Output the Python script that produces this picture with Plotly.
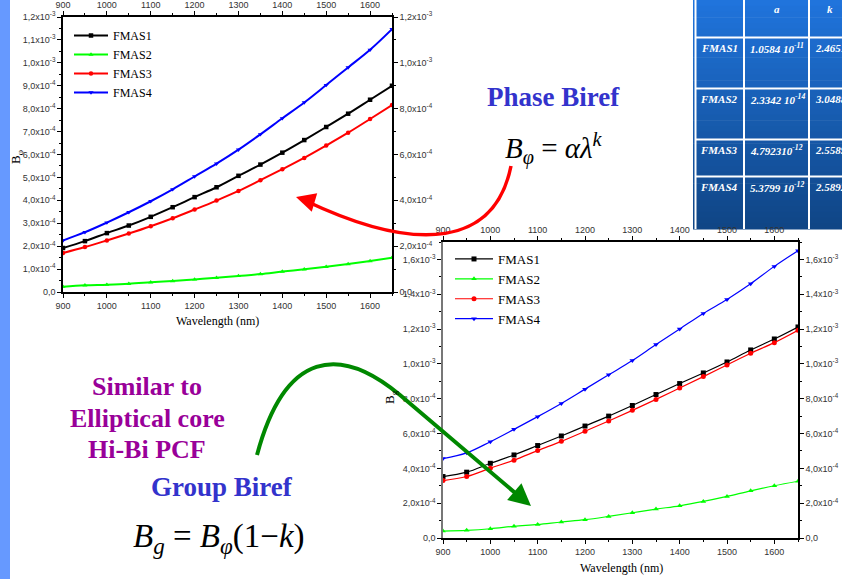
import plotly.graph_objects as go

W, H = 842, 579

# ---------------- data ----------------
wavelength = [900, 950, 1000, 1050, 1100, 1150, 1200, 1250, 1300, 1350, 1400, 1450, 1500, 1550, 1600, 1650]

# Phase birefringence (top-left chart)
phase_fmas1 = [1.92e-4, 2.22e-4, 2.57e-4, 2.90e-4, 3.28e-4, 3.70e-4, 4.14e-4, 4.57e-4, 5.07e-4, 5.56e-4, 6.08e-4, 6.63e-4, 7.20e-4, 7.78e-4, 8.39e-4, 9.00e-4]
phase_fmas2 = [0.23e-4, 0.29e-4, 0.32e-4, 0.36e-4, 0.42e-4, 0.48e-4, 0.55e-4, 0.62e-4, 0.70e-4, 0.78e-4, 0.89e-4, 0.99e-4, 1.10e-4, 1.22e-4, 1.35e-4, 1.49e-4]
phase_fmas3 = [1.70e-4, 1.96e-4, 2.25e-4, 2.55e-4, 2.87e-4, 3.22e-4, 3.60e-4, 3.99e-4, 4.41e-4, 4.88e-4, 5.36e-4, 5.85e-4, 6.39e-4, 6.95e-4, 7.55e-4, 8.16e-4]
phase_fmas4 = [2.25e-4, 2.61e-4, 3.03e-4, 3.48e-4, 3.96e-4, 4.48e-4, 5.04e-4, 5.60e-4, 6.21e-4, 6.88e-4, 7.58e-4, 8.27e-4, 9.03e-4, 9.80e-4, 10.57e-4, 11.47e-4]

# Group birefringence (bottom-right chart)
group_fmas1 = [3.53e-4, 3.78e-4, 4.29e-4, 4.77e-4, 5.31e-4, 5.86e-4, 6.43e-4, 7.00e-4, 7.61e-4, 8.24e-4, 8.87e-4, 9.48e-4, 10.11e-4, 10.80e-4, 11.43e-4, 12.12e-4]
group_fmas2 = [0.40e-4, 0.44e-4, 0.53e-4, 0.67e-4, 0.78e-4, 0.92e-4, 1.05e-4, 1.24e-4, 1.45e-4, 1.66e-4, 1.85e-4, 2.10e-4, 2.39e-4, 2.71e-4, 3.00e-4, 3.26e-4]
group_fmas3 = [3.30e-4, 3.53e-4, 4.01e-4, 4.47e-4, 5.02e-4, 5.55e-4, 6.13e-4, 6.72e-4, 7.33e-4, 7.96e-4, 8.61e-4, 9.27e-4, 9.94e-4, 10.61e-4, 11.22e-4, 11.93e-4]
group_fmas4 = [4.56e-4, 4.89e-4, 5.53e-4, 6.24e-4, 6.97e-4, 7.73e-4, 8.55e-4, 9.37e-4, 10.19e-4, 11.11e-4, 12.00e-4, 12.90e-4, 13.70e-4, 14.60e-4, 15.60e-4, 16.50e-4]

series_names = ["FMAS1", "FMAS2", "FMAS3", "FMAS4"]

x_tickvals = [900, 1000, 1100, 1200, 1300, 1400, 1500, 1600]

phase_left_tickvals = [i * 1e-4 for i in range(13)]
phase_left_ticktext = ["0,0", "1,0x10<sup>-4</sup>", "2,0x10<sup>-4</sup>", "3,0x10<sup>-4</sup>", "4,0x10<sup>-4</sup>",
                       "5,0x10<sup>-4</sup>", "6,0x10<sup>-4</sup>", "7,0x10<sup>-4</sup>", "8,0x10<sup>-4</sup>",
                       "9,0x10<sup>-4</sup>", "1,0x10<sup>-3</sup>", "1,1x10<sup>-3</sup>", "1,2x10<sup>-3</sup>"]
phase_right_tickvals = [i * 2e-4 for i in range(7)]
phase_right_ticktext = ["0,0", "2,0x10<sup>-4</sup>", "4,0x10<sup>-4</sup>", "6,0x10<sup>-4</sup>",
                        "8,0x10<sup>-4</sup>", "1,0x10<sup>-3</sup>", "1,2x10<sup>-3</sup>"]
group_tickvals = [i * 2e-4 for i in range(9)]
group_ticktext = ["0,0", "2,0x10<sup>-4</sup>", "4,0x10<sup>-4</sup>", "6,0x10<sup>-4</sup>", "8,0x10<sup>-4</sup>",
                  "1,0x10<sup>-3</sup>", "1,2x10<sup>-3</sup>", "1,4x10<sup>-3</sup>", "1,6x10<sup>-3</sup>"]

table_alpha = ["1.0584 10<sup>-11</sup>", "2.3342 10<sup>-14</sup>", "4.792310<sup>-12</sup>", "5.3799 10<sup>-12</sup>"]
table_k = ["2.4651", "3.0488", "2.5589", "2.5892"]

# ---------------- helpers ----------------
def X(px):
    return px / W

def Y(py):
    return 1 - py / H

colors = ["#000000", "#00FF00", "#FF0000", "#0000FF"]
symbols = ["square", "triangle-up", "circle", "triangle-down"]

fig = go.Figure()

phase = [phase_fmas1, phase_fmas2, phase_fmas3, phase_fmas4]
group = [group_fmas1, group_fmas2, group_fmas3, group_fmas4]

for name, vals, c, s in zip(series_names, phase, colors, symbols):
    fig.add_trace(go.Scatter(x=wavelength, y=vals, name=name, mode="lines+markers",
                             line=dict(color=c, width=2, shape="spline"),
                             marker=dict(color=c, symbol=s, size=4.5),
                             xaxis="x", yaxis="y", legend="legend", hoverinfo="skip"))
for name, vals, c, s in zip(series_names, group, colors, symbols):
    fig.add_trace(go.Scatter(x=wavelength, y=vals, name=name, mode="lines+markers",
                             line=dict(color=c, width=1.2, shape="spline"),
                             marker=dict(color=c, symbol=s, size=5),
                             xaxis="x3", yaxis="y3", legend="legend2", hoverinfo="skip"))
# invisible traces so overlay axes are drawn
fig.add_trace(go.Scatter(x=wavelength, y=phase_fmas1, mode="lines", line=dict(width=0), opacity=0,
                         showlegend=False, hoverinfo="skip", xaxis="x2", yaxis="y2"))
fig.add_trace(go.Scatter(x=wavelength, y=group_fmas1, mode="lines", line=dict(width=0), opacity=0,
                         showlegend=False, hoverinfo="skip", xaxis="x4", yaxis="y4"))

tickfont = dict(family="Liberation Sans, Arial", size=9, color="#333333")

def xax(domain, anchor, side, overlaying=None, linecolor="black"):
    d = dict(domain=domain, anchor=anchor, side=side, range=[900, 1650], tickvals=x_tickvals,
             ticks="outside", ticklen=4, tickcolor="black", showline=True, linecolor=linecolor, linewidth=1.5,
             showgrid=False, zeroline=False, tickfont=tickfont, automargin=False,
             minor=dict(dtick=50, ticks="outside", ticklen=2, tickcolor="black"))
    if overlaying:
        d["overlaying"] = overlaying
    return d

def yax(domain, anchor, side, rng, tv, tt, minor_dt, overlaying=None, linecolor="black"):
    d = dict(domain=domain, anchor=anchor, side=side, range=rng, tickmode="array", tickvals=tv, ticktext=tt,
             ticks="outside", ticklen=4, tickcolor="black", showline=True, linecolor=linecolor, linewidth=1.5,
             showgrid=False, zeroline=False, tickfont=tickfont, automargin=False,
             minor=dict(dtick=minor_dt, ticks="outside", ticklen=2, tickcolor="black"))
    if overlaying:
        d["overlaying"] = overlaying
    return d

d1x = [X(63), X(392)]
d1y = [Y(292), Y(17)]
d2x = [X(443), X(798)]
d2y = [Y(538), Y(242)]

fig.update_layout(
    xaxis=xax(d1x, "y", "bottom"),
    xaxis2=xax(d1x, "y", "top", overlaying="x"),
    yaxis=yax(d1y, "x", "left", [0, 1.2e-3], phase_left_tickvals, phase_left_ticktext, 5e-5),
    yaxis2=yax(d1y, "x", "right", [0, 1.2e-3], phase_right_tickvals, phase_right_ticktext, 1e-4, overlaying="y"),
    xaxis3=xax(d2x, "y3", "bottom"),
    xaxis4=xax(d2x, "y3", "top", overlaying="x3"),
    yaxis3=yax(d2y, "x3", "left", [0, 1.7e-3], group_tickvals, group_ticktext, 1e-4, linecolor="#777777"),
    yaxis4=yax(d2y, "x3", "right", [0, 1.7e-3], group_tickvals, group_ticktext, 1e-4, overlaying="y3"),
)

serif = "Liberation Serif, Times New Roman"
fig.update_layout(
    legend=dict(x=X(69), y=Y(21), xanchor="left", yanchor="top", bgcolor="rgba(0,0,0,0)",
                font=dict(family=serif, size=12, color="black"), tracegroupgap=0, itemwidth=34),
    legend2=dict(x=X(450), y=Y(244), xanchor="left", yanchor="top", bgcolor="rgba(0,0,0,0)",
                 font=dict(family=serif, size=13, color="black"), tracegroupgap=0, itemwidth=38),
)

shapes = []
# left blue strip
shapes.append(dict(type="rect", xref="paper", yref="paper", x0=0, x1=X(10), y0=0, y1=1,
                   fillcolor="#6699FF", line=dict(width=0), layer="below"))

# table background gradient (bands)
tx0, tx1, ty0, ty1 = 693, 842, 0, 229
nb = 40
c_top = (0x20, 0x74, 0xDC)
c_bot = (0x10, 0x46, 0x86)
for i in range(nb):
    t = i / (nb - 1)
    col = tuple(int(c_top[j] + (c_bot[j] - c_top[j]) * t) for j in range(3))
    ya = ty0 + (ty1 - ty0) * i / nb
    yb = ty0 + (ty1 - ty0) * (i + 1) / nb + 0.6
    shapes.append(dict(type="rect", xref="paper", yref="paper", x0=X(tx0), x1=X(tx1), y0=Y(yb), y1=Y(ya),
                       fillcolor="rgb(%d,%d,%d)" % col, line=dict(width=0), layer="below"))
for vx in [695.5, 744, 809]:
    shapes.append(dict(type="line", xref="paper", yref="paper", x0=X(vx), x1=X(vx), y0=Y(ty1), y1=Y(0),
                       line=dict(color="white", width=2), layer="below"))
for hy in [37.5, 88.5, 139.5, 176.5]:
    shapes.append(dict(type="line", xref="paper", yref="paper", x0=X(695), x1=X(842), y0=Y(hy), y1=Y(hy),
                       line=dict(color="white", width=2), layer="below"))

def path(cmds):
    out = []
    for c in cmds:
        if isinstance(c, str):
            out.append(c)
        else:
            out.append("%.5f,%.5f" % (X(c[0]), Y(c[1])))
    return " ".join(out)

# red curved arrow
shapes.append(dict(type="path", xref="paper", yref="paper",
                   path=path(["M", (511, 166), "C", (495, 245), (420, 255), (306, 201)]),
                   line=dict(color="#FF0000", width=3.5)))
# green curved arrow
shapes.append(dict(type="path", xref="paper", yref="paper",
                   path=path(["M", (257, 455), "C", (285, 350), (340, 345), (400, 395), "L", (520, 497)]),
                   line=dict(color="#008800", width=4)))
fig.update_layout(shapes=shapes)

ann = []
# arrow heads
ann.append(dict(x=X(296), y=Y(197), xref="paper", yref="paper", text="", showarrow=True,
                ax=17, ay=5, arrowhead=2, arrowsize=1.1, arrowwidth=3.5, arrowcolor="#FF0000"))
ann.append(dict(x=X(531), y=Y(506), xref="paper", yref="paper", text="", showarrow=True,
                ax=-14, ay=-12, arrowhead=2, arrowsize=1.1, arrowwidth=4, arrowcolor="#008800"))

def txt(x, y, text, size, color="black", family=serif, xanchor="center", angle=0):
    ann.append(dict(x=X(x), y=Y(y), xref="paper", yref="paper", text=text, showarrow=False,
                    xanchor=xanchor, yanchor="middle", textangle=angle,
                    font=dict(family=family, size=size, color=color)))

# axis titles
txt(218, 321, "Wavelength (nm)", 12)
txt(621, 568, "Wavelength (nm)", 12)
txt(17, 157, "B<sub>φ</sub>", 13, angle=-90)
txt(390, 397, "B<sub>g</sub>", 13, angle=-90)

# slide texts
txt(553, 97, "<b>Phase Biref</b>", 27, color="#3333CC")
txt(554, 148, "<i>B</i><sub><i>φ</i></sub> = <i>αλ</i><sup><i>k</i></sup>", 29)
txt(147, 386, "<b>Similar to</b>", 26, color="#990099")
txt(147, 418, "<b>Elliptical core</b>", 26, color="#990099")
txt(147, 449, "<b>Hi-Bi PCF</b>", 26, color="#990099")
txt(222, 487, "<b>Group Biref</b>", 27, color="#3333CC")
txt(219, 538, "<i>B</i><sub><i>g</i></sub> = <i>B</i><sub><i>φ</i></sub>(1−<i>k</i>)", 33)

# table texts
txt(777, 9, "<b><i>a</i></b>", 11, color="white")
txt(830, 9, "<b><i>k</i></b>", 11, color="white")
row_y = [48, 99, 150, 187]
for name, a, k, ry in zip(series_names, table_alpha, table_k, row_y):
    txt(719, ry, "<b><i>%s</i></b>" % name, 11, color="white")
    txt(748, ry, "<b><i>%s</i></b>" % a, 11, color="white", xanchor="left")
    txt(813, ry, "<b><i>%s</i></b>" % k, 11, color="white", xanchor="left")

fig.update_layout(annotations=ann)

fig.update_layout(width=W, height=H, margin=dict(l=0, r=0, t=0, b=0, pad=0, autoexpand=False),
                  paper_bgcolor="white", plot_bgcolor="rgba(0,0,0,0)", showlegend=True)

fig.write_html("out.html", config={"displayModeBar": False},
               post_script="document.body.style.margin='0px';document.body.style.overflow='hidden';")
